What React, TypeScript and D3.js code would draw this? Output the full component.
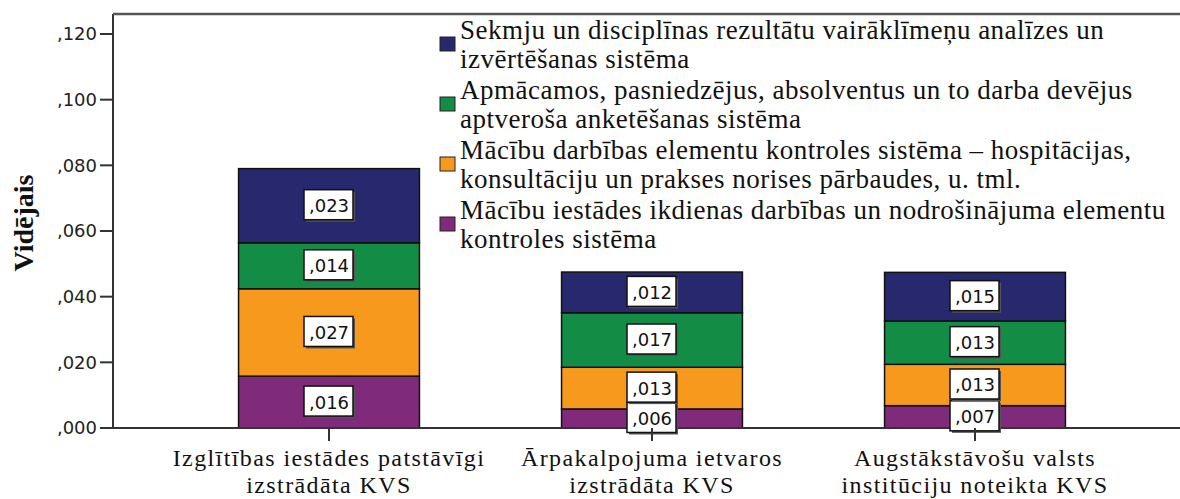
import * as d3 from "d3";

// Kategorijas (divās rindās, kā attēlā)
const categories = [
  ["Izglītības iestādes patstāvīgi", "izstrādāta KVS"],
  ["Ārpakalpojuma ietvaros", "izstrādāta KVS"],
  ["Augstākstāvošu valsts", "institūciju noteikta KVS"],
];

// Sēriju nosaukumi (leģendas secībā, no augšas uz leju)
const seriesLabels = [
  ["Sekmju un disciplīnas rezultātu vairāklīmeņu analīzes un", "izvērtēšanas sistēma"],
  ["Apmācamos, pasniedzējus, absolventus un to darba devējus", "aptveroša anketēšanas sistēma"],
  ["Mācību darbības elementu kontroles sistēma – hospitācijas,", "konsultāciju un prakses norises pārbaudes, u. tml."],
  ["Mācību iestādes ikdienas darbības un nodrošinājuma elementu", "kontroles sistēma"],
];
const seriesColors = ["#28286f", "#138c45", "#f7991d", "#7f2a7b"];

// Vidējās vērtības katrai kategorijai
const sekmjuAnalize = [0.0226, 0.0124, 0.0148];
const anketesana = [0.014, 0.0166, 0.0132];
const macibuDarbiba = [0.0266, 0.0127, 0.0126];
const ikdienasKontrole = [0.0158, 0.0058, 0.0068];

const yTicks = [0, 0.02, 0.04, 0.06, 0.08, 0.1, 0.12];

const width = 1180;
const height = 499;
const plotLeft = 113;
const plotTop = 14;
const plotBottom = 428;

const serifFont = "'Liberation Serif', serif";
const sansFont = "'DejaVu Sans', sans-serif";

const fmt = (v: number) => d3.format(".3f")(v).replace(/^0\./, ",");

export default function App() {
  // sēriju vērtības: apakšā purpura, augšā tumši zilā
  const seriesValues = [sekmjuAnalize, anketesana, macibuDarbiba, ikdienasKontrole];
  const stackOrder = [3, 2, 1, 0];

  const rows = categories.map((c, i) => {
    const row: Record<string, number | string> = { cat: c.join(" ") };
    stackOrder.forEach((s) => (row["s" + s] = seriesValues[s][i]));
    return row;
  });

  const stack = d3.stack<Record<string, number | string>>().keys(stackOrder.map((s) => "s" + s));
  const stacked = stack(rows as any);

  const y = d3.scaleLinear().domain([0, 0.12]).range([plotBottom, 34]);
  const x = d3
    .scaleBand<string>()
    .domain(rows.map((r) => r.cat as string))
    .range([167.5, 1136.5])
    .paddingInner(0.44)
    .paddingOuter(0.22);

  return (
    <svg
      width={width}
      height={height}
      style={{ position: "absolute", left: 0, top: 0, background: "#fff" }}
    >
      {/* Y ass nosaukums */}
      <text
        transform={`translate(33,223) rotate(-90)`}
        textAnchor="middle"
        fontFamily={serifFont}
        fontWeight="bold"
        fontSize={28}
        fill="#111"
      >
        Vidējais
      </text>

      {/* Y ass iedaļas */}
      {yTicks.map((t) => (
        <g key={t}>
          <line x1={100} x2={plotLeft} y1={y(t)} y2={y(t)} stroke="#333" strokeWidth={2} />
          <text
            x={97}
            y={y(t)}
            dy="0.36em"
            textAnchor="end"
            fontFamily={sansFont}
            fontSize={18}
            fill="#222"
          >
            {fmt(t)}
          </text>
        </g>
      ))}

      {/* Stabiņi */}
      {stacked.map((layer) => {
        const s = +layer.key.slice(1);
        return (
          <g key={layer.key}>
            {layer.map((d, i) => (
              <rect
                key={i}
                x={x(rows[i].cat as string)}
                y={y(d[1])}
                width={x.bandwidth()}
                height={y(d[0]) - y(d[1])}
                fill={seriesColors[s]}
                stroke="#111"
                strokeWidth={1.5}
              />
            ))}
          </g>
        );
      })}

      {/* Rāmis un asis */}
      <line x1={plotLeft} x2={plotLeft} y1={plotTop} y2={plotBottom} stroke="#333" strokeWidth={2} />
      <line x1={plotLeft} x2={width} y1={plotTop} y2={plotTop} stroke="#555" strokeWidth={2.5} />
      <line x1={plotLeft} x2={width} y1={plotBottom} y2={plotBottom} stroke="#333" strokeWidth={2} />

      {/* Vērtību etiķetes */}
      {stacked.map((layer) =>
        layer.map((d, i) => {
          const cx = (x(rows[i].cat as string) as number) + x.bandwidth() / 2;
          const cy = (y(d[0]) + y(d[1])) / 2;
          const v = d[1] - d[0];
          return (
            <g key={layer.key + i} transform={`translate(${cx},${cy})`}>
              <rect x={-23} y={-14} width={49} height={30} fill="#555" />
              <rect x={-25} y={-16} width={49} height={30} fill="#fff" stroke="#111" strokeWidth={1.5} />
              <text
                x={0}
                y={0}
                dy="0.36em"
                textAnchor="middle"
                fontFamily={sansFont}
                fontSize={18}
                fill="#111"
              >
                {fmt(v)}
              </text>
            </g>
          );
        })
      )}

      {/* X ass iedaļas un nosaukumi */}
      {rows.map((r, i) => {
        const cx = (x(r.cat as string) as number) + x.bandwidth() / 2;
        return (
          <g key={i}>
            <line x1={cx} x2={cx} y1={plotBottom} y2={plotBottom + 13} stroke="#333" strokeWidth={2} />
            <text
              textAnchor="middle"
              fontFamily={serifFont}
              fontSize={24}
              letterSpacing={1.4}
              fill="#111"
            >
              {categories[i].map((line, j) => (
                <tspan key={j} x={cx} y={466 + j * 27}>
                  {line}
                </tspan>
              ))}
            </text>
          </g>
        );
      })}

      {/* Leģenda */}
      {seriesLabels.map((lines, i) => (
        <g key={i}>
          <rect
            x={440}
            y={37 + i * 60}
            width={15}
            height={14}
            fill={seriesColors[i]}
            stroke="#222"
            strokeWidth={1}
          />
          <text fontFamily={serifFont} fontSize={27} letterSpacing={0.5} fill="#111">
            {lines.map((line, j) => (
              <tspan key={j} x={460} y={39 + i * 60 + j * 29}>
                {line}
              </tspan>
            ))}
          </text>
        </g>
      ))}
    </svg>
  );
}
